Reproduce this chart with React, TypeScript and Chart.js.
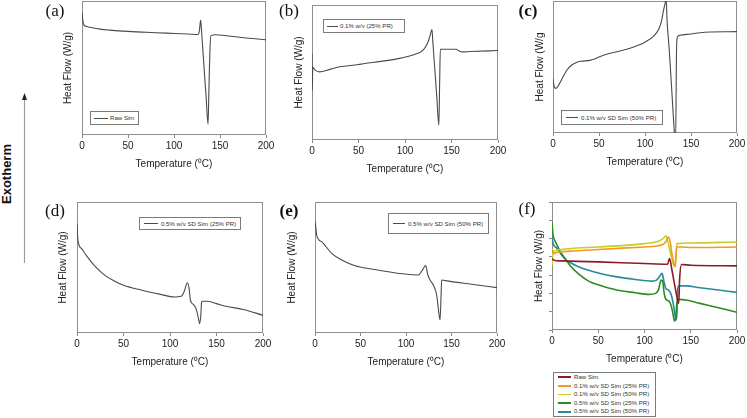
import React, { useEffect, useRef } from 'react';
import { Chart, registerables } from 'chart.js';
Chart.register(...registerables);

// ---------- DATA (heat flow in relative plot units, 0 = bottom of frame, 100 = top) ----------
const xTicks = [0, 50, 100, 150, 200];

// (a) Raw Sim
const rawSimTemp = [0, 1, 2, 5, 10, 20, 30, 50, 65, 80, 101, 115, 126, 127.5, 129, 130, 133, 135, 137, 138, 139, 140, 145, 155, 173, 200];
const rawSimHF = [91.4, 85, 82.2, 81, 80.2, 79, 78.3, 77.3, 76.8, 76.3, 75.8, 75.4, 75, 77.5, 85.7, 77, 47, 27.5, 8, 35, 62, 74, 74.8, 74.3, 72.8, 71.1];

// (b) 0.1% w/v (25% PR)
const low25Temp = [0, 0.3, 0.8, 3, 8, 20, 30, 50, 55, 60, 70, 90, 110, 120, 125, 127, 129, 130, 132, 134, 136.4, 137.2, 138, 145, 155, 158, 162, 170, 200];
const low25HF = [64, 37, 54, 52, 50.5, 52.5, 54.2, 55.9, 56.5, 57, 57.9, 59.9, 63.3, 67, 73, 77.5, 81.8, 72, 53, 34, 11, 40, 67.2, 67.2, 67.2, 66, 65.3, 65.5, 66.3];

// (c) 0.1% w/v SD Sim (50% PR)
const low50Temp = [0, 1, 3, 5, 10, 15, 20, 25, 30, 40, 45, 50, 60, 75, 90, 100, 110, 115, 118, 120, 122, 123, 124, 126.4, 129.3, 131.9, 132.5, 133.3, 134.2, 134.8, 137, 150, 160, 200];
const low50HF = [41.3, 36, 33.8, 35, 41.3, 47.5, 51.3, 53.3, 54.3, 55, 56, 57.5, 60, 62.5, 65.8, 68.8, 73.8, 78.8, 85, 92.5, 98.8, 102, 85, 62.5, 30, 0, -5, -5, 60, 71.3, 73.8, 75, 76, 76.8];

// (d) 0.5% w/v SD Sim (25% PR)
const high25Temp = [0, 1, 5, 10, 20, 30, 40, 50, 70, 90, 105, 112, 115, 118.8, 120.5, 122, 125, 128, 131, 131.7, 133, 134, 135, 140, 150, 160, 180, 200];
const high25HF = [83.5, 70.7, 64.4, 59.3, 50.4, 44, 39.7, 36.4, 32.6, 29.5, 27.5, 28, 31.3, 38.4, 34, 25, 21.9, 18.6, 9.7, 7.1, 12.2, 23.7, 24.2, 24.2, 22.4, 20.4, 17.8, 13.5];

// (e) 0.5% w/v SD Sim (50% PR)
const high50Temp = [0, 1, 1.8, 7.3, 18.3, 29.3, 44, 62, 80.6, 99, 113.6, 118, 121.6, 124, 126.4, 130, 133.7, 135.5, 137.4, 138.5, 139.2, 143, 172, 200];
const high50HF = [85, 80, 74.8, 69.7, 60.8, 55.7, 51.4, 48.9, 46.8, 45, 44.3, 48, 51.4, 44.3, 40.5, 36.6, 29, 18.8, 9.9, 28, 40.5, 40, 37.2, 34.6];

// (f) overlay
const fRawTemp = [0, 2, 10, 50, 100, 125, 127, 130, 134, 137, 138, 140, 150, 200];
const fRawHF = [55.8, 54.5, 54, 53.2, 51.9, 51.4, 55.8, 45.5, 30, 20.8, 40, 51.2, 50.6, 50.1];
const fLow25Temp = [0, 2, 5, 20, 50, 100, 120, 124, 126, 128, 130, 133, 135, 140, 150, 200];
const fLow25HF = [63.6, 59.7, 60.5, 61.6, 62.9, 64.9, 66.8, 70.1, 72.7, 68, 58, 49.4, 64.9, 64.9, 64.4, 64.9];
const fLow50Temp = [0, 1, 5, 20, 50, 100, 115, 120, 123, 125, 128, 131, 133, 135, 150, 200];
const fLow50HF = [50.6, 59.7, 62.3, 63.6, 64.9, 67.5, 69.4, 71.4, 73.5, 70, 60, 52, 49.4, 67.5, 68, 68.8];
const fHigh25Temp = [0, 1, 3, 5, 10, 15.6, 20, 30, 40, 50, 70, 90, 105, 112, 115, 118, 120, 121, 123, 127, 130, 132, 133, 134, 135, 137, 145, 160, 180, 200];
const fHigh25HF = [84.4, 75, 70, 67, 60, 54.5, 50, 43, 38, 35.3, 31.2, 29.1, 27.8, 28.6, 31.2, 39, 37, 30, 24.2, 22.1, 15.6, 7.8, 7, 11.7, 20.8, 23.9, 23.4, 20.8, 17.4, 13.8];
const fHigh50Temp = [0, 1, 5, 10, 15.6, 20, 30, 50, 70, 90, 108, 113, 116, 119, 121, 123, 126, 129, 132, 134, 135, 136, 137, 145, 160, 180, 200];
const fHigh50HF = [72.7, 68, 64, 59, 54.5, 52.5, 49, 44.5, 41.5, 39.5, 38.2, 39, 41.6, 44.2, 38, 32.5, 31.2, 27.3, 16.9, 7.8, 12, 32.5, 34.5, 34.5, 33, 31.2, 29.4];

const fLabels = ['Raw Sim', '0.1% w/v SD Sim (25% PR)', '0.1% w/v SD Sim (50% PR)', '0.5% w/v SD Sim (25% PR)', '0.5% w/v SD Sim (50% PR)'];
const fColors = ['#8c1c24', '#f29a1e', '#c8cc24', '#2e8b22', '#2a8a9c'];

// ---------- helpers ----------
const SANS = "'Liberation Sans', Arial, sans-serif";
const SERIF = "'Liberation Serif', 'Times New Roman', serif";

type Series = { label: string; t: number[]; hf: number[]; color: string; width: number };
type PanelSpec = {
  l: number; t: number; r: number; b: number;
  yTitleX: number; yTitle: string;
  series: Series[];
  yTickCount?: number;
};

const boxPlugin = {
  id: 'frameBox',
  beforeDatasetsDraw(chart: any) {
    const { ctx, chartArea } = chart;
    const { left, top, right, bottom } = chartArea;
    ctx.save();
    ctx.strokeStyle = '#8e8e8e';
    ctx.lineWidth = 1;
    ctx.strokeRect(Math.round(left) + 0.5, Math.round(top) + 0.5, Math.round(right - left) - 1, Math.round(bottom - top) - 1);
    ctx.restore();
  },
};

function Panel({ spec }: { spec: PanelSpec }) {
  const ref = useRef<HTMLCanvasElement>(null);
  const CL = spec.yTitleX - 10;
  const CT = Math.max(0, spec.t - 3);
  const CR = spec.r + 12;
  const CB = spec.b + 37;
  useEffect(() => {
    if (!ref.current) return;
    const chart = new Chart(ref.current, {
      type: 'line',
      data: {
        datasets: spec.series.map((s) => ({
          label: s.label,
          data: s.t.map((x, i) => ({ x, y: s.hf[i] })),
          borderColor: s.color,
          borderWidth: s.width,
          pointRadius: 0,
          fill: false,
          cubicInterpolationMode: 'monotone' as const,
        })),
      },
      options: {
        animation: false,
        responsive: false,
        maintainAspectRatio: false,
        devicePixelRatio: 1,
        events: [],
        layout: { padding: { left: 0, top: spec.t - CT, right: CR - spec.r, bottom: 0 } },
        plugins: { legend: { display: false }, tooltip: { enabled: false } },
        scales: {
          x: {
            type: 'linear',
            min: 0,
            max: 200,
            afterFit: (s: any) => { s.height = CB - spec.b; },
            afterBuildTicks: (s: any) => { s.ticks = xTicks.map((v) => ({ value: v })); },
            ticks: { color: '#222', font: { family: SANS, size: 10 }, padding: 2, maxRotation: 0 },
            grid: { display: true, drawOnChartArea: false, drawTicks: true, tickLength: 3, color: '#888' },
            border: { display: false },
            title: { display: true, text: 'Temperature (⁰C)', color: '#222', font: { family: SANS, size: 10 }, padding: { top: 0, bottom: 2 } },
          },
          y: {
            type: 'linear',
            min: 0,
            max: 100,
            afterFit: (s: any) => { s.width = spec.l - CL; },
            afterBuildTicks: (s: any) => {
              if (spec.yTickCount) {
                const n = spec.yTickCount;
                s.ticks = Array.from({ length: n + 1 }, (_, i) => ({ value: (i * 100) / n }));
              }
            },
            ticks: { display: false },
            grid: { display: !!spec.yTickCount, drawOnChartArea: false, drawTicks: true, tickLength: 3, color: '#888' },
            border: { display: false },
            title: { display: true, text: spec.yTitle, color: '#222', font: { family: SANS, size: 10 }, padding: { top: 4, bottom: 0 } },
          },
        },
      },
      plugins: [boxPlugin],
    } as any);
    return () => chart.destroy();
  }, []);
  return (
    <canvas
      ref={ref}
      width={CR - CL}
      height={CB - CT}
      style={{ position: 'absolute', left: CL, top: CT, width: CR - CL, height: CB - CT }}
    />
  );
}

type LegendSpec = { x: number; y: number; w: number; h: number; lineX: number; lineW: number; textX: number; items: { label: string; color: string; lw: number }[] };

function BoxLegend({ spec }: { spec: LegendSpec }) {
  const n = spec.items.length;
  const rowH = (spec.h - 2) / n;
  return (
    <div style={{ position: 'absolute', left: spec.x, top: spec.y, width: spec.w, height: spec.h, border: '1px solid #7a7a7a', boxSizing: 'border-box', background: '#fff' }}>
      {spec.items.map((it, i) => (
        <div key={i} style={{ position: 'absolute', left: 0, top: i * rowH, height: rowH, width: '100%' }}>
          <div style={{ position: 'absolute', left: spec.lineX - spec.x, top: rowH / 2 - it.lw / 2, width: spec.lineW, height: it.lw, background: it.color }} />
          <div style={{ position: 'absolute', left: spec.textX - spec.x, top: 0, height: rowH, lineHeight: rowH + 'px', fontFamily: SANS, fontSize: 6.1, color: '#333', whiteSpace: 'nowrap' }}>{it.label}</div>
        </div>
      ))}
    </div>
  );
}

const GREY = '#4a4a4a';
const panels: PanelSpec[] = [
  { l: 82, t: 1, r: 266, b: 135, yTitleX: 68, yTitle: 'Heat Flow (W/g)', series: [{ label: 'Raw Sim', t: rawSimTemp, hf: rawSimHF, color: GREY, width: 1.1 }] },
  { l: 312, t: 5, r: 498, b: 140, yTitleX: 299, yTitle: 'Heat Flow (W/g)', series: [{ label: '0.1% w/v (25% PR)', t: low25Temp, hf: low25HF, color: GREY, width: 1.1 }] },
  { l: 553, t: 1, r: 737, b: 133, yTitleX: 540, yTitle: 'Heat Flow (W/g', series: [{ label: '0.1% w/v SD Sim (50% PR)', t: low50Temp, hf: low50HF, color: GREY, width: 1.1 }] },
  { l: 77, t: 202, r: 263, b: 333, yTitleX: 63, yTitle: 'Heat Flow (W/g)', series: [{ label: '0.5% w/v SD Sim (25% PR)', t: high25Temp, hf: high25HF, color: GREY, width: 1.1 }] },
  { l: 315, t: 202, r: 497, b: 333, yTitleX: 292, yTitle: 'Heat Flow (W/g)', series: [{ label: '0.5% w/v SD Sim (50% PR)', t: high50Temp, hf: high50HF, color: GREY, width: 1.1 }] },
  {
    l: 552, t: 202, r: 737, b: 330, yTitleX: 539, yTitle: 'Heat Flow (W/g)', yTickCount: 7,
    series: [
      { label: fLabels[0], t: fRawTemp, hf: fRawHF, color: fColors[0], width: 1.6 },
      { label: fLabels[1], t: fLow25Temp, hf: fLow25HF, color: fColors[1], width: 1.6 },
      { label: fLabels[2], t: fLow50Temp, hf: fLow50HF, color: fColors[2], width: 1.6 },
      { label: fLabels[3], t: fHigh25Temp, hf: fHigh25HF, color: fColors[3], width: 1.6 },
      { label: fLabels[4], t: fHigh50Temp, hf: fHigh50HF, color: fColors[4], width: 1.6 },
    ],
  },
];

const legends: LegendSpec[] = [
  { x: 90, y: 111, w: 49, h: 14, lineX: 93, lineW: 14, textX: 109, items: [{ label: 'Raw Sim', color: GREY, lw: 1 }] },
  { x: 323, y: 19, w: 82, h: 14, lineX: 326, lineW: 11, textX: 339, items: [{ label: '0.1% w/v (25% PR)', color: GREY, lw: 1 }] },
  { x: 561, y: 110, w: 102, h: 15, lineX: 565, lineW: 12, textX: 580, items: [{ label: '0.1% w/v SD Sim (50% PR)', color: GREY, lw: 1 }] },
  { x: 139, y: 217, w: 102, h: 13, lineX: 143, lineW: 14, textX: 160, items: [{ label: '0.5% w/v SD Sim (25% PR)', color: GREY, lw: 1 }] },
  { x: 388, y: 213, w: 101, h: 21, lineX: 392, lineW: 12, textX: 407, items: [{ label: '0.5% w/v SD Sim (50% PR)', color: GREY, lw: 1 }] },
  { x: 553, y: 372, w: 103, h: 45, lineX: 557, lineW: 13, textX: 573, items: fLabels.map((l, i) => ({ label: l, color: fColors[i], lw: 1.8 })) },
];

const panelLetters = [
  { text: '(a)', x: 55, y: 10, bold: false },
  { text: '(b)', x: 289, y: 10, bold: false },
  { text: '(c)', x: 528, y: 10, bold: true },
  { text: '(d)', x: 55, y: 210, bold: false },
  { text: '(e)', x: 289, y: 210, bold: true },
  { text: '(f)', x: 527, y: 208, bold: false },
];

export default function App() {
  return (
    <div style={{ position: 'fixed', left: 0, top: 0, width: 747, height: 418, overflow: 'hidden', background: '#fff' }}>
      {panels.map((p, i) => (
        <Panel key={i} spec={p} />
      ))}
      {legends.map((l, i) => (
        <BoxLegend key={i} spec={l} />
      ))}
      {panelLetters.map((p, i) => (
        <div key={i} style={{ position: 'absolute', left: p.x, top: p.y, transform: 'translate(-50%, -50%)', fontFamily: SERIF, fontSize: 17, lineHeight: 1, fontWeight: p.bold ? 700 : 400, color: '#111', whiteSpace: 'nowrap' }}>{p.text}</div>
      ))}
      <div style={{ position: 'absolute', left: 6, top: 174, transform: 'translate(-50%, -50%) rotate(-90deg)', fontFamily: SANS, fontSize: 13, fontWeight: 700, color: '#111', whiteSpace: 'nowrap', lineHeight: 1 }}>Exotherm</div>
      <svg style={{ position: 'absolute', left: 0, top: 0 }} width={40} height={418}>
        <line x1={24.5} y1={263} x2={24.5} y2={98} stroke="#9a9a9a" strokeWidth={1.2} />
        <polygon points="24.5,93 22,100 27,100" fill="#222" />
      </svg>
    </div>
  );
}
